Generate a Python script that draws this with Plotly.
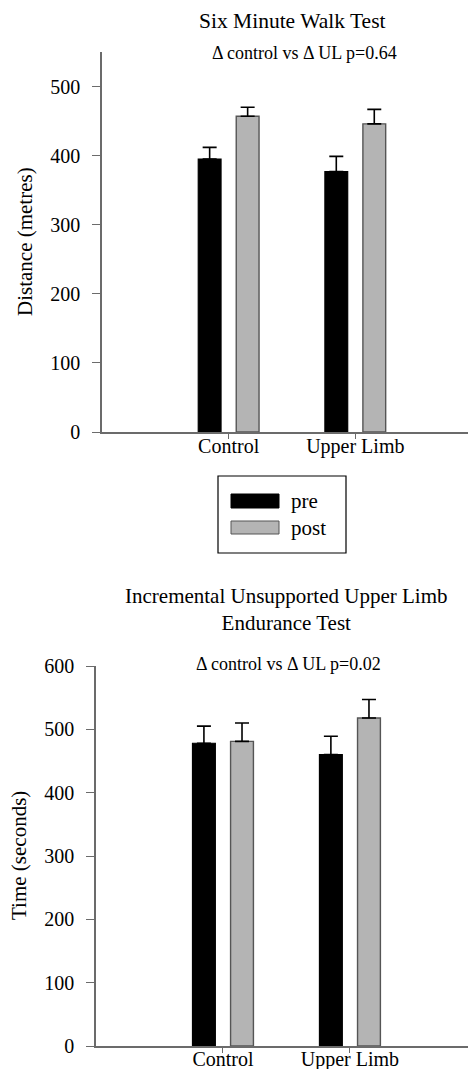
import plotly.graph_objects as go

# ---- data ----
categories = ["Control", "Upper Limb"]
series_names = ["pre", "post"]

walk_pre = [395, 377]
walk_post = [457, 446]
walk_pre_err = [17, 22]
walk_post_err = [13, 21]

arm_pre = [478, 460]
arm_post = [481, 518]
arm_pre_err = [27, 29]
arm_post_err = [29, 29]

walk_ticks = [0, 100, 200, 300, 400, 500]
arm_ticks = [0, 100, 200, 300, 400, 500, 600]

titles = ["Six Minute Walk Test", "Incremental Unsupported Upper Limb<br>Endurance Test"]
subtitles = ["\u0394 control vs \u0394 UL p=0.64", "\u0394 control vs \u0394 UL p=0.02"]
ytitles = ["Distance (metres)", "Time (seconds)"]

# ---- style ----
W, H = 468, 1069
FONT = "'Liberation Serif', 'Times New Roman', serif"
PRE_COLOR = "#000000"
POST_COLOR = "#b4b4b4"
POST_LINE = "#555555"
AXIS_COLOR = "#6b6b6b"


def px(x):
    return x / W


def py(y):
    return 1 - y / H


fig = go.Figure()


def add_bars(xa, ya, pre, post, pre_err, post_err):
    fig.add_trace(go.Bar(
        x=categories, y=pre, name=series_names[0], xaxis=xa, yaxis=ya,
        marker=dict(color=PRE_COLOR, line=dict(color="#000000", width=1.2)),
        error_y=dict(type="data", symmetric=False, array=pre_err,
                     arrayminus=[0] * len(pre_err), color="#000000",
                     thickness=1.6, width=7),
        offsetgroup="pre", showlegend=False, hoverinfo="skip"))
    fig.add_trace(go.Bar(
        x=categories, y=post, name=series_names[1], xaxis=xa, yaxis=ya,
        marker=dict(color=POST_COLOR, line=dict(color=POST_LINE, width=1.4)),
        error_y=dict(type="data", symmetric=False, array=post_err,
                     arrayminus=[0] * len(post_err), color="#000000",
                     thickness=1.6, width=7),
        offsetgroup="post", showlegend=False, hoverinfo="skip"))


add_bars("x", "y", walk_pre, walk_post, walk_pre_err, walk_post_err)
add_bars("x2", "y2", arm_pre, arm_post, arm_pre_err, arm_post_err)

axis_common = dict(showgrid=False, zeroline=False, showline=True,
                   automargin=False,
                   linecolor=AXIS_COLOR, linewidth=1.5,
                   tickfont=dict(family=FONT, size=20, color="#000000"))

fig.update_layout(
    template="none",
    width=W, height=H, autosize=False,
    margin=dict(l=0, r=0, t=0, b=0, pad=0),
    paper_bgcolor="white", plot_bgcolor="white",
    barmode="group", bargap=0.4, bargroupgap=0.4,
    showlegend=False,
    font=dict(family=FONT, color="#000000"),
    xaxis=dict(domain=[px(102), 1.0], anchor="y", type="category",
               range=[-1, 1.89], ticks="outside", ticklen=5,
               tickcolor=AXIS_COLOR, tickwidth=1.2, ticklabelstandoff=-10,
               **axis_common),
    yaxis=dict(domain=[py(432), py(52)], anchor="x", range=[0, 550],
               tickvals=walk_ticks, ticks="outside", ticklen=8,
               tickcolor=AXIS_COLOR, tickwidth=1.2, ticklabelstandoff=8,
               **axis_common),
    xaxis2=dict(domain=[px(96), 1.0], anchor="y2", type="category",
                range=[-1, 1.93], ticks="outside", ticklen=5,
                tickcolor=AXIS_COLOR, tickwidth=1.2, ticklabelstandoff=-11,
                **axis_common),
    yaxis2=dict(domain=[py(1046), py(666)], anchor="x2", range=[0, 600],
                tickvals=arm_ticks, ticks="outside", ticklen=8,
                tickcolor=AXIS_COLOR, tickwidth=1.2, ticklabelstandoff=8,
                **axis_common),
)

ann = []
# titles
ann.append(dict(text=titles[0], x=px(292), y=py(21), font=dict(size=21.5)))
ann.append(dict(text=titles[1], x=px(286), y=py(609), font=dict(size=21)))
# subtitles
ann.append(dict(text=subtitles[0], x=px(304), y=py(53), font=dict(size=18)))
ann.append(dict(text=subtitles[1], x=px(288), y=py(664), font=dict(size=18)))
# y-axis titles
ann.append(dict(text=ytitles[0], x=px(25), y=py(242), textangle=-90, font=dict(size=21)))
ann.append(dict(text=ytitles[1], x=px(19), y=py(856), textangle=-90, font=dict(size=21)))
# legend labels
ann.append(dict(text=series_names[0], x=px(289), y=py(501), xanchor="left", font=dict(size=21)))
ann.append(dict(text=series_names[1], x=px(289), y=py(528), xanchor="left", font=dict(size=21)))
for a in ann:
    a.setdefault("xanchor", "center")
    a.update(xref="paper", yref="paper", yanchor="middle", showarrow=False)
    a["font"].update(family=FONT, color="#000000")
fig.update_layout(annotations=ann)

# legend box and swatches
shapes = [
    dict(type="rect", x0=px(218), x1=px(346), y0=py(553), y1=py(476),
         line=dict(color="#000000", width=1.2), fillcolor="rgba(0,0,0,0)"),
    dict(type="rect", x0=px(231), x1=px(279), y0=py(508), y1=py(494),
         line=dict(color="#000000", width=1), fillcolor=PRE_COLOR),
    dict(type="rect", x0=px(231), x1=px(279), y0=py(534), y1=py(521),
         line=dict(color=POST_LINE, width=1), fillcolor=POST_COLOR),
]
for s in shapes:
    s.update(xref="paper", yref="paper")
fig.update_layout(shapes=shapes)

fig.write_html(
    "out.html",
    config={"displayModeBar": False, "responsive": False},
    post_script="document.body.style.margin='0';document.body.style.overflow='hidden';",
)
